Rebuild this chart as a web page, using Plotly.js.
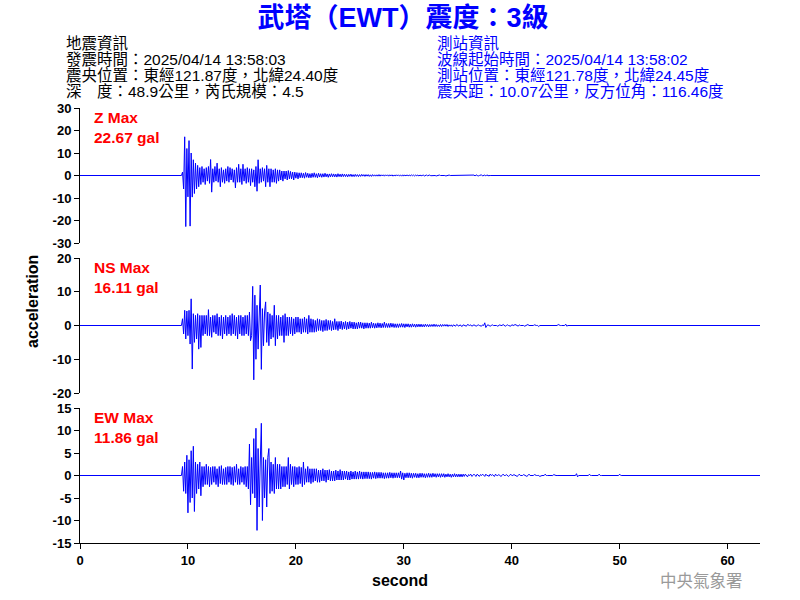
<!DOCTYPE html>
<html>
<head>
<meta charset="utf-8">
<script src="https://cdn.plot.ly/plotly-3.0.1.min.js"></script>
<style>html,body{margin:0;padding:0;background:#fff;}#chart{width:800px;height:600px;}</style>
</head>
<body>
<div id="chart"></div>
<script>
// ---- data (acceleration in gal, sampled every 0.1 s, first sample just before the P onset) ----
var traceStart = 9.4;   // seconds
var sampleStep = 0.1;   // seconds
var recordEnd = 63;     // seconds

var zValues = [0,
1.5,-6,17.2,-22.7,12,-9.5,15.5,-22.5,10,-9.6,
7,-8,5.5,-6,4.5,-5,3.5,-4,4,-3,
3,-4,3.5,-2.5,4,-3.5,7.1,-7.4,3,-3,
4,-2.5,5.5,-3,3,-5,3.5,-3,2.5,-3.5,
3,-2.5,4,-3,3.5,-2,3,-3,2.5,-5.5,
3.5,-3,5,-3,3,-4,5,-2.5,3,-3.5,
3.5,-3,3,-4.5,3,-3,2.5,-5,4,-7,
7,-3.5,3,-3,3.5,-2.5,3,-5,4.5,-3,
3,-5,3,-3,2.5,-3,3,-3.5,2.5,-2.5,
2.5,-2,2,-2.5,2,-1.5,2,-2,2.2,-1.5,
1.8,-1.5,1.5,-2,1.5,-1.2,1.3,-1.5,1.2,-1,
1.2,-1,1,-1.2,1.3,-0.8,1,-1,0.8,-1,
1,-0.8,1.2,-0.8,0.8,-1,1,-0.7,0.8,-0.8,
0.8,-0.7,1,-0.6,0.7,-0.8,0.7,-0.6,0.8,-0.6,
0.7,-0.6,0.6,-0.7,0.8,-0.5,0.6,-0.6,0.7,-0.5,
0.6,-0.5,0.5,-0.6,0.5,-0.4,0.6,-0.5,0.4,-0.5,
0.5,-0.4,0.4,-0.5,0.4,-0.4,0.5,-0.3,0.4,-0.4,
0.4,-0.3,0.4,-0.4,0.3,-0.4,0.4,-0.3,0.3,-0.3,
0.3,-0.3,0.4,-0.3,0.3,-0.2,0.3,-0.3,0.3,-0.2,
0.3,-0.3,0.3,-0.2,0.3,-0.3,0.2,-0.2,0.3,-0.2,
0.3,-0.2,0.2,-0.3,0.3,-0.2,0.2,-0.2,0.3,-0.2,
0.2,-0.2,0.3,-0.1,0.2,-0.2,0.2,-0.1,0.2,-0.2,
0.2,-0.1,0,0.2,-0.2,0,0.2,-0.1,0,0.2,
-0.1,0,0,0.2,0,-0.2,0,0,0.2,0,
0,0.2,0,0,-0.2,0,0,0.2,0,0,
0,0,0.2,0,0,0,-0.1,0,0,0,
0,0,0,0,0,0,0,0,0,0,
0.2,-0.2,0.3,0,-0.2,0,0,0.3,-0.2,0,
0.2,-0.2,0.3,-0.1,0,0
];

var nsValues = [0,
2,-2.5,4.5,-4,4.3,-3,4.5,-5.5,7.9,-12.9,
3.5,-5,3,-4,3.5,-7,3,-6.5,3,-3,
3,-2.5,3,-3,4.7,-3,2.5,-3.5,3,-2,
3,-2.5,3.5,-3,2.5,-3,3,-4,2.5,-2.5,
3,-3,2.5,-2.5,3,-3,3.5,-2.5,3,-3,
2.5,-4,3,-2.5,3,-3,2.5,-3,3,-2.5,
3,-3,4,-4.5,-3,11.6,-16.1,9,-10,6,
-7,5,12,-13,5,-6,4,7,-5,4,
-6,3.5,-4,3,-3.5,6,-6,3,-4,3,
-3,2.5,-3,3,-5,3.5,-3,2.5,-3,2.5,
-2.5,2.5,-3,2,-2.5,2.5,-2,2.5,-2,2,
-2.5,2,-2,2.5,-2,2,-2.5,3,-2,2,
-2,1.8,-2,1.5,-1.8,2,-1.5,1.8,-1.5,1.5,
-1.8,1.5,-1.5,1.8,-1.5,1.5,-1.2,1.5,-1.5,1.2,
-1.3,2,-1.2,1.2,-1.5,1.2,-1,1.3,-1.2,1,
-1,1.2,-1.2,1,-1,1.2,-0.8,1,-1,1,
-1,0.8,-1,1,-0.8,1,-0.8,0.8,-1,0.8,
-0.8,0.8,-0.8,0.7,-0.8,1,-0.7,0.7,-0.8,0.6,
-0.7,0.8,-0.6,0.7,-0.7,0.6,-0.6,1,-0.6,0.6,
-0.6,0.6,-0.6,0.7,-0.5,0.6,-0.6,0.5,-0.6,0.5,
-0.6,0.5,-0.5,0.6,-0.5,0.5,-0.6,0.5,-0.4,0.5,
-0.5,0.4,-0.5,0.5,-0.4,0.4,-0.5,0.4,-0.4,0.4,
-0.4,0.4,-0.4,0.3,-0.4,0.4,-0.3,0.3,-0.4,0.3,
-0.3,0.3,-0.3,0.4,-0.3,0.3,-0.3,0.2,-0.3,0.3,
-0.3,0.3,-0.2,0.3,-0.2,0.3,-0.3,0.2,-0.2,0.2,
-0.3,0.2,0,-0.2,0.3,0,-0.2,0.2,0,-0.3,
0.2,0,0,-0.2,0.3,0,0,0.2,-0.2,0,
0.2,0,-0.2,0,0.2,0,0,-0.2,0.2,0,
0.8,-0.6,0,0.2,0,-0.2,0,0.2,0,0,
0.2,0,-0.2,0,0.2,0,0,0.3,0,-0.2,
0,0.2,0,0,-0.2,0.2,0,0,0.3,0,
0,-0.2,0.2,0,0,0.2,0,-0.2,0,0,
0.3,0,0,-0.2,0,0,0.2,0,0,0,
-0.3,0,0,0,0,0,0,0,0,0,
0,0,0,0,0,0,0,0,0.3,0,
0,0,0,0,0,0.4,-0.2,0,0,0
];

var ewValues = [0,
2,-3.5,3,-4,4.5,-8.3,3.5,-6,5.5,-5,
6.5,-8,3,-4,2.5,-3,3,-4.5,2,-2.5,
2,-2,2.5,-2,2,-2.5,1.8,-2,2,-1.5,
2,-2,1.5,-2.5,2,-1.8,2.2,-2,1.5,-2,
1.8,-2,2,-1.5,2,-2,1.8,-2.2,2,-1.5,
2.5,-2,1.5,-2,2,-1.5,1.8,-2,2,-2.5,
2,-3,7,-6.5,4,-4,8.2,-5,10.5,-12.2,
6,-7,3,11.6,-10,4,-5,3.5,-7,4,
6,-4,3,-3.5,2.5,-4,4,-3,2.5,-3,
2.5,-3,2,-2.5,2,-2.5,2,-2,4,-3,
2.5,-2,2,-2.5,2,-2,1.8,-2,2,-1.8,
1.8,-2.5,3,-2,1.5,-1.5,2,-1.5,1.5,-1.8,
1.5,-1.5,1.5,-1.2,1.5,-1.5,1.2,-1.5,1.2,-1.2,
1.5,-1.2,1.2,-1.5,1.2,-1,1.3,-1.2,1,-1.2,
1,-1.2,1.2,-1,1,-1,1.3,-1,1,-1,
1,-0.8,1,-1,0.8,-1,1,-0.8,0.8,-0.8,
1,-0.8,0.8,-0.8,1,-0.7,0.8,-0.8,0.8,-0.7,
0.8,-0.7,0.8,-0.7,0.7,-0.8,0.7,-0.6,0.8,-0.7,
0.7,-0.6,0.7,-0.6,0.7,-0.6,0.6,-0.7,0.6,-0.6,
0.6,-0.6,0.7,-0.5,0.6,-0.6,0.6,-0.5,0.6,-0.5,
0.6,-0.5,1,-0.8,0.6,-1,0.5,-0.5,0.6,-0.5,
0.6,-0.5,0.5,-0.6,0.5,-0.4,0.5,-0.5,0.4,-0.5,
0.5,-0.4,0.5,-0.4,0.4,-0.5,0.4,-0.4,0.5,-0.4,
0.4,-0.4,0.5,-0.3,0.4,-0.4,0.4,-0.3,0.4,-0.4,
0.4,-0.3,0.4,-0.4,0.3,-0.3,0.4,-0.3,0.3,-0.4,
0.3,-0.3,0.4,-0.3,0.3,-0.3,0.3,-0.3,0.3,-0.3,
0.3,-0.2,0.3,0,-0.3,0.2,0,0.3,-0.2,0,
0.3,0,-0.2,0.3,0,-0.2,0.2,0,0.3,0,
-0.2,0.3,0,0,-0.2,0.3,0,0.2,0,-0.2,
0.3,0,0,0.2,0,-0.2,0,0.3,0,0,
0.2,0,-0.2,0,0.3,0,0,0.2,0,0,
-0.2,0,0.3,0,0,0,0.2,0,0,-0.2,
0,0.3,0,0,0,0,0.2,0,0,0,
0,-0.2,0,0,0,0,0.3,0,0,0,
0,0,0,0,0.2,0,0,0,0,0,
0,0,0,0,0,0,0,0,0,0,
0,0,0,0,0,0.4,-0.3,0,0,0,
0,0,0,0,0,0,0,0.3,0,0,
0,0,0,0,0,0,0.3,0,0,0,
0,0,0,0,0,0,0,0,0,0,
0,0,0,0,0,0.3,0,0,0,0
];

var channelNames = ['Z', 'NS', 'EW'];
var channelMax = ['22.67', '16.11', '11.86'];
var yRanges = [[-30, 30], [-20, 20], [-15, 15]];
var yTicks = [[-30,-20,-10,0,10,20,30], [-20,-10,0,10,20], [-15,-10,-5,0,5,10,15]];
var xTicks = [0, 10, 20, 30, 40, 50, 60];

var titleText = '武塔（EWT）震度：3級';
var quakeInfo = ['地震資訊', '發震時間：2025/04/14 13:58:03', '震央位置：東經121.87度，北緯24.40度', '深　度：48.9公里，芮氏規模：4.5'];
var stationInfo = ['測站資訊', '波線起始時間：2025/04/14 13:58:02', '測站位置：東經121.78度，北緯24.45度', '震央距：10.07公里，反方位角：116.46度'];

// ---- build ----
var ML = 80, MR = 40, MT = 108, MB = 57, W = 800, H = 600;
var PW = W - ML - MR, PH = H - MT - MB;
function px2x(px) { return (px - ML) / PW; }
function py2y(py) { return (H - MB - py) / PH; }

function buildTrace(vals, yaxis) {
  var xs = [0], ys = [0];
  for (var i = 0; i < vals.length; i++) { xs.push(traceStart + i * sampleStep); ys.push(vals[i]); }
  xs.push(recordEnd); ys.push(0);
  return { type: 'scatter', mode: 'lines', x: xs, y: ys, xaxis: 'x', yaxis: yaxis,
           line: { color: '#0000ff', width: 1 }, hoverinfo: 'skip', showlegend: false };
}

var data = [buildTrace(zValues, 'y'), buildTrace(nsValues, 'y2'), buildTrace(ewValues, 'y3')];

var latin = 'Liberation Sans, Arial, Noto Sans CJK TC, sans-serif';
var cjk = 'Liberation Sans, Noto Sans CJK TC, sans-serif';
var tickFont = { family: latin, size: 13, color: '#000', weight: 'bold' };

function yAxis(k, domain) {
  return { domain: domain, range: yRanges[k], tickvals: yTicks[k], ticktext: yTicks[k].map(String),
    showline: true, linecolor: '#000', linewidth: 1, ticks: 'outside', ticklen: 5, tickcolor: '#000',
    tickfont: tickFont, showgrid: false, zeroline: false, anchor: 'x', fixedrange: true };
}

var sh = 135 / PH, gap = 15 / PH;
var layout = {
  width: W, height: H,
  margin: { l: ML, r: MR, t: MT, b: MB, pad: 0 },
  paper_bgcolor: '#fff', plot_bgcolor: '#fff',
  showlegend: false,
  title: { text: titleText, xref: 'paper', yref: 'container', x: px2x(403), y: 1 - 18 / H,
           xanchor: 'center', yanchor: 'middle',
           font: { family: cjk, size: 27, color: '#0000ff', weight: 'bold' } },
  xaxis: { range: [0, 63], tickvals: xTicks, showline: true, linecolor: '#000', linewidth: 1,
           ticks: 'outside', ticklen: 5, tickcolor: '#000', tickfont: tickFont, showgrid: false,
           zeroline: false, anchor: 'y3', fixedrange: true },
  yaxis: yAxis(0, [1 - sh, 1]),
  yaxis2: yAxis(1, [sh + gap, 1 - sh - gap]),
  yaxis3: yAxis(2, [0, sh]),
  annotations: []
};

var ann = layout.annotations;
function addText(text, px, py, opts) {
  var a = { text: text, xref: 'paper', yref: 'paper', x: px2x(px), y: py2y(py),
            xanchor: 'left', yanchor: 'middle', showarrow: false, borderpad: 0 };
  for (var k in opts) a[k] = opts[k];
  ann.push(a);
}

var infoY = [43.5, 59.5, 75.5, 91.5];
for (var i = 0; i < 4; i++) {
  addText(quakeInfo[i], 65, infoY[i], { font: { family: cjk, size: 15.5, color: '#000' } });
  addText(stationInfo[i], 436, infoY[i], { font: { family: cjk, size: 15.5, color: '#0000ff' } });
}

var labelY = [[117.5, 137.5], [267.5, 287.5], [417, 437]];
for (var c = 0; c < 3; c++) {
  var rf = { family: latin, size: 15.5, color: '#ff0000', weight: 'bold' };
  addText(channelNames[c] + ' Max', 93, labelY[c][0], { font: rf });
  addText(channelMax[c] + ' gal', 93, labelY[c][1], { font: rf });
}

addText('acceleration', 32, 302, { xanchor: 'center', textangle: -90,
  font: { family: latin, size: 16, color: '#000', weight: 'bold' } });
addText('second', 400, 580, { xanchor: 'center',
  font: { family: latin, size: 16, color: '#000', weight: 'bold' } });
addText('中央氣象署', 701, 580, { xanchor: 'center',
  font: { family: 'Noto Sans CJK TC, sans-serif', size: 16.5, color: '#9a9a9a' } });

Plotly.newPlot('chart', data, layout, { staticPlot: true, displayModeBar: false });
</script>
</body>
</html>
